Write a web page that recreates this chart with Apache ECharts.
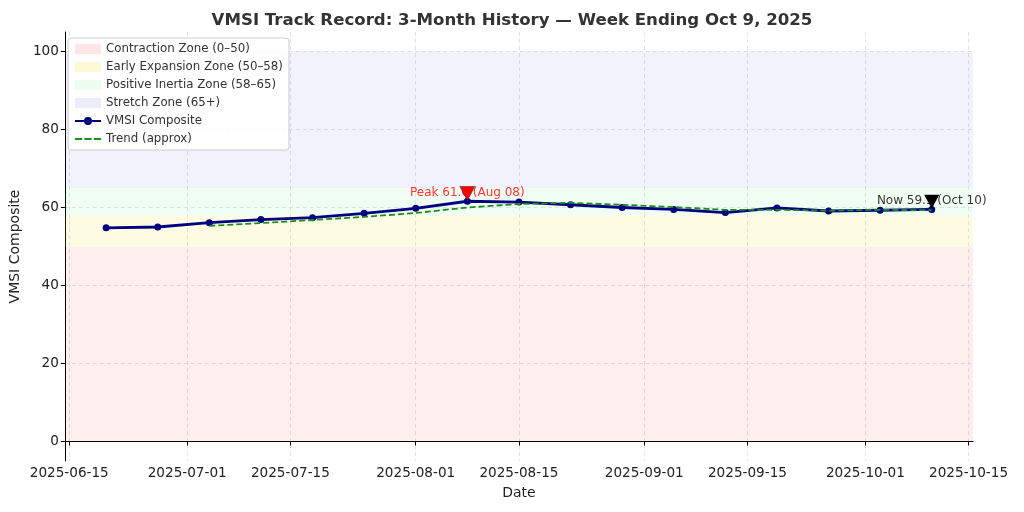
<!DOCTYPE html>
<html><head><meta charset="utf-8">
<script src="https://cdn.jsdelivr.net/npm/echarts@6/dist/echarts.min.js"></script>
<style>html,body{margin:0;padding:0;background:#fff}#c{width:1024px;height:512px}</style>
</head><body><div id="c"></div>
<script>
const dates = ['2025-06-20','2025-06-27','2025-07-04','2025-07-11','2025-07-18','2025-07-25','2025-08-01','2025-08-08','2025-08-15','2025-08-22','2025-08-29','2025-09-05','2025-09-12','2025-09-19','2025-09-26','2025-10-03','2025-10-10'];
const vmsi = [54.8, 55.0, 56.1, 56.9, 57.4, 58.5, 59.8, 61.6, 61.4, 60.7, 60.0, 59.5, 58.7, 59.9, 59.1, 59.3, 59.5];
const trendDates = ['2025-07-04','2025-07-11','2025-07-18','2025-07-25','2025-08-01','2025-08-08','2025-08-15','2025-08-22','2025-08-29','2025-09-05','2025-09-12','2025-09-19','2025-09-26','2025-10-03','2025-10-10'];
const trend = [55.3, 56.0, 56.8, 57.6, 58.6, 60.0, 60.9, 61.2, 60.7, 60.1, 59.4, 59.4, 59.2, 59.4, 59.3];
const zones = [
  {name:'Contraction Zone (0–50)', from:0, to:50, color:'rgba(255,0,0,0.065)', legend:'rgba(255,0,0,0.1)'},
  {name:'Early Expansion Zone (50–58)', from:50, to:58, color:'rgba(240,225,0,0.11)', legend:'rgba(240,225,0,0.17)'},
  {name:'Positive Inertia Zone (58–65)', from:58, to:65, color:'rgba(0,230,60,0.055)', legend:'rgba(0,230,60,0.08)'},
  {name:'Stretch Zone (65+)', from:65, to:100, color:'rgba(0,0,200,0.05)', legend:'rgba(0,0,200,0.07)'}
];
const yTicks = [0, 20, 40, 60, 80, 100];
const xTicks = ['2025-06-15','2025-07-01','2025-07-15','2025-08-01','2025-08-15','2025-09-01','2025-09-15','2025-10-01','2025-10-15'];
const peak = {date:'2025-08-08', value:61.6, label:'Peak 61.6 (Aug 08)'};
const now = {date:'2025-10-10', value:59.5, label:'Now 59.5 (Oct 10)'};

const toTs = s => { const p = s.split('-').map(Number); return new Date(p[0], p[1]-1, p[2]).getTime(); };
const pad = n => (n < 10 ? '0' : '') + n;
const fmt = v => { const d = new Date(Math.round(v)); return d.getFullYear() + '-' + pad(d.getMonth()+1) + '-' + pad(d.getDate()); };
const DAY = 86400000;
const xMin = toTs('2025-06-20') - 5.6 * DAY;
const xMax = toTs('2025-10-10') + 5.6 * DAY;
const FONT = 'DejaVu Sans';
const GREEN = '#1a8f1a';

const zoneSeries = zones.map(z => ({
  name: z.name, type: 'line', data: [], color: z.legend, symbol: 'none',
  itemStyle: {color: z.legend}, lineStyle: {width: 0},
  markArea: {silent: true, itemStyle: {color: z.color}, data: [[{yAxis: z.from}, {yAxis: z.to}]]}
}));

const option = {
  animation: false,
  textStyle: {fontFamily: FONT},
  title: {text: 'VMSI Track Record: 3-Month History — Week Ending Oct 9, 2025', left: 'center', top: 7,
    textStyle: {fontFamily: FONT, fontSize: 16.6, fontWeight: 'bold', color: '#333'}},
  grid: {left: 63, right: 51, top: 32, bottom: 51},
  legend: {
    orient: 'vertical', left: 68, top: 38, padding: [5, 6, 5, 6], itemGap: 6,
    itemWidth: 26, itemHeight: 10, backgroundColor: 'rgba(255,255,255,0.85)', borderColor: '#ccc', borderWidth: 1, borderRadius: 3,
    textStyle: {fontFamily: FONT, fontSize: 11.8, color: '#333'},
    data: zones.map(z => ({name: z.name, icon: 'rect', itemStyle: {color: z.legend}}))
      .concat([{name: 'VMSI Composite'},
               {name: 'Trend (approx)', icon: 'path://M0,4h7v2h-7z M9.5,4h7v2h-7z M19,4h7v2h-7z', itemStyle: {color: GREEN}}])
  },
  xAxis: {
    type: 'value', min: xMin, max: xMax, name: 'Date', nameLocation: 'middle', nameGap: 25,
    nameTextStyle: {fontFamily: FONT, fontSize: 14, color: '#222'},
    axisLine: {lineStyle: {color: '#000', width: 1}},
    axisTick: {show: true, length: 4, lineStyle: {color: '#000'}, customValues: xTicks.map(toTs)},
    axisLabel: {fontFamily: FONT, fontSize: 13.6, color: '#222', margin: 5, customValues: xTicks.map(toTs), formatter: v => fmt(v)},
    splitLine: {show: true, lineStyle: {color: '#ddd', type: [4, 3], width: 0.8}}
  },
  yAxis: {
    type: 'value', min: -5, max: 105, name: 'VMSI Composite', nameLocation: 'middle', nameGap: 35,
    nameTextStyle: {fontFamily: FONT, fontSize: 14, color: '#222'},
    axisLine: {show: true, lineStyle: {color: '#000', width: 1}},
    axisTick: {show: true, length: 4, lineStyle: {color: '#000'}, customValues: yTicks},
    axisLabel: {fontFamily: FONT, fontSize: 13.6, color: '#222', margin: 6, customValues: yTicks},
    splitLine: {show: true, lineStyle: {color: '#ddd', type: [4, 3], width: 0.8}}
  },
  series: zoneSeries.concat([
    {name: 'VMSI Composite', type: 'line', z: 4, data: dates.map((d, i) => [toTs(d), vmsi[i]]),
      color: '#000080', lineStyle: {color: '#000080', width: 2.8}, symbol: 'circle', symbolSize: 7,
      itemStyle: {color: '#000080'}},
    {name: 'Trend (approx)', type: 'line', z: 5, data: trendDates.map((d, i) => [toTs(d), trend[i]]),
      color: GREEN, lineStyle: {color: GREEN, width: 1.8, type: [6, 3]}, symbol: 'none', itemStyle: {color: GREEN}},
    {name: 'peakText', type: 'scatter', z: 6, symbolSize: 0, silent: true,
      data: [[toTs(peak.date), peak.value + 2]],
      label: {show: true, position: 'top', distance: -5, formatter: peak.label, fontFamily: FONT, fontSize: 12, color: '#ff0000'}},
    {name: 'nowText', type: 'scatter', z: 6, symbolSize: 0, silent: true,
      data: [[toTs(now.date), now.value + 2]],
      label: {show: true, position: 'top', distance: -5, formatter: now.label, fontFamily: FONT, fontSize: 12, color: '#000'}},
    {name: 'peakMark', type: 'scatter', z: 8, silent: true, symbol: 'triangle', symbolRotate: 180, symbolSize: [15, 14],
      data: [[toTs(peak.date), peak.value + 2]], itemStyle: {color: '#ff0000', opacity: 1, borderColor: '#222', borderWidth: 0.5}},
    {name: 'nowMark', type: 'scatter', z: 8, silent: true, symbol: 'triangle', symbolRotate: 180, symbolSize: [15, 14],
      data: [[toTs(now.date), now.value + 2]], itemStyle: {color: '#000', opacity: 1}}
  ])
};
const chart = echarts.init(document.getElementById('c'), null, {renderer: 'canvas'});
chart.setOption(option);
</script></body></html>
